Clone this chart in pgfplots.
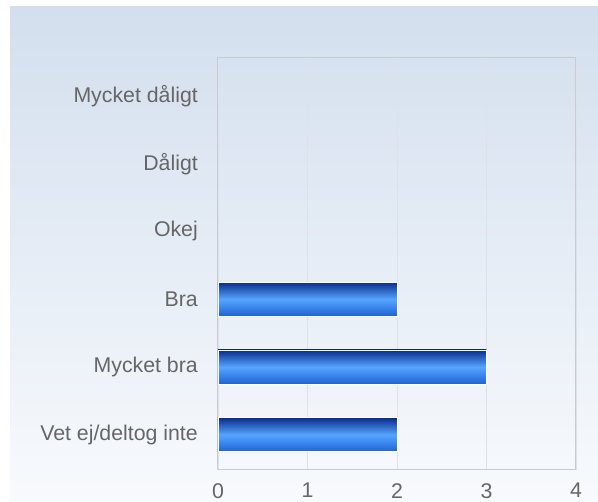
\documentclass[border=0pt]{standalone}
\usepackage{fontspec}
\setmainfont{Liberation Sans}
\usepackage{pgfplots}
\pgfplotsset{compat=1.18}
\definecolor{bgtop}{HTML}{D3DFEE}
\definecolor{bgbot}{HTML}{F8FAFD}
\definecolor{bardark}{HTML}{0A2C8C}
\definecolor{barlight}{HTML}{55A5FF}
\definecolor{barbot}{HTML}{1E62D6}
\definecolor{txt}{HTML}{666666}
\definecolor{gridc}{HTML}{DDE2EA}
\definecolor{framec}{HTML}{C8CCD2}
\tikzset{mybar/.style={draw=white, line width=0.8pt,
    top color=bardark, bottom color=barbot, middle color=barlight}}
\begin{document}
\begin{tikzpicture}
\path[use as bounding box] (0,0) rectangle (598pt,502pt);
\fill[top color=bgtop, bottom color=bgbot] (10pt,0pt) rectangle (598pt,495pt);
\begin{axis}[
  at={(218pt,32pt)}, anchor=south west,
  scale only axis, width=358pt, height=412pt,
  xbar, bar width=34pt, bar shift=0pt,
  xmin=0, xmax=4, ymin=-0.52, ymax=5.56,
  xtick={0,1,2,3,4},
  ytick={0,1,2,3,4,5},
  yticklabels={Vet ej/deltog inte, Mycket bra, Bra, Okej, Dåligt, Mycket dåligt},
  major tick length=0pt,
  xmajorgrids, major grid style={gridc, line width=0.8pt},
  axis line style={framec, line width=1pt},
  /pgf/number format/assume math mode=true,
  tick label style={font=\fontsize{21.3}{24}\selectfont, text=txt},
  yticklabel style={inner sep=0pt, xshift=-20pt, anchor=east},
  xticklabel style={inner sep=0pt, yshift=-13pt, anchor=north},
]
% Vet ej/deltog inte
\addplot[mybar] coordinates {(2,0)};
% Mycket bra
\addplot[mybar] coordinates {(3,1)};
% Bra
\addplot[mybar] coordinates {(2,2)};
% Okej, Dåligt, Mycket dåligt = 0 (no visible bar)
\end{axis}
\end{tikzpicture}
\end{document}
